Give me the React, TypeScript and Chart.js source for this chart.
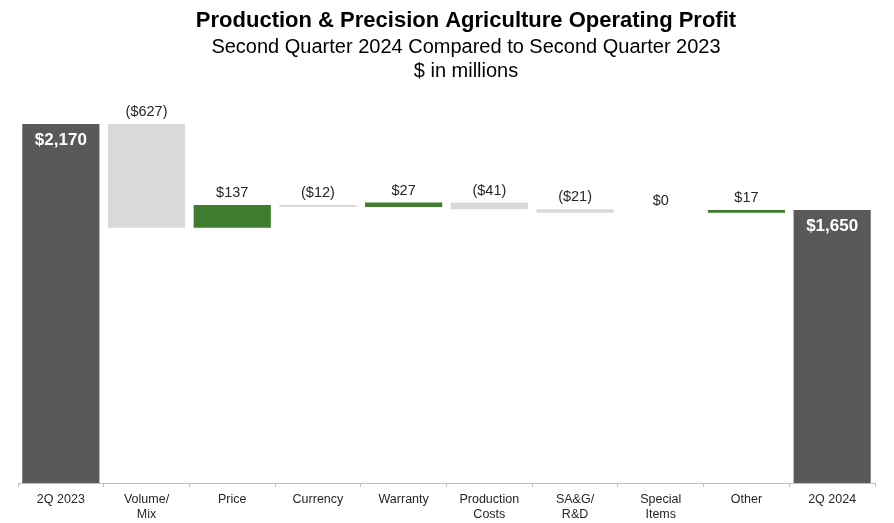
import React, { useEffect, useRef } from "react";
import { Chart, registerables } from "chart.js";

Chart.register(...registerables);

const categories: (string | string[])[] = [
  "2Q 2023",
  ["Volume/", "Mix"],
  "Price",
  "Currency",
  "Warranty",
  ["Production", "Costs"],
  ["SA&G/", "R&D"],
  ["Special", "Items"],
  "Other",
  "2Q 2024",
];
const startTotal = 2170;
const deltas = [-627, 137, -12, 27, -41, -21, 0, 17];
const endTotal = 1650;

const titleLines = [
  "Production & Precision Agriculture Operating Profit",
  "Second Quarter 2024 Compared to Second Quarter 2023",
  "$ in millions",
];

const DARK = "#595959";
const LIGHT = "#d9d9d9";
const GREEN = "#3f7c2e";

function fmtDelta(v: number) {
  if (v < 0) return "($" + Math.abs(v).toLocaleString("en-US") + ")";
  return "$" + v.toLocaleString("en-US");
}

export default function App() {
  const ref = useRef<HTMLCanvasElement | null>(null);
  useEffect(() => {
    if (!ref.current) return;
    const ranges: [number, number][] = [];
    const colors: string[] = [];
    const kinds: string[] = [];
    const labels: string[] = [];
    ranges.push([0, startTotal]);
    colors.push(DARK);
    kinds.push("total");
    labels.push("$" + startTotal.toLocaleString("en-US"));
    let run = startTotal;
    deltas.forEach((d) => {
      const next = run + d;
      ranges.push([Math.min(run, next), Math.max(run, next)]);
      colors.push(d < 0 ? LIGHT : GREEN);
      kinds.push("delta");
      labels.push(fmtDelta(d));
      run = next;
    });
    ranges.push([0, endTotal]);
    colors.push(DARK);
    kinds.push("total");
    labels.push("$" + endTotal.toLocaleString("en-US"));

    const labelPlugin = {
      id: "wfLabels",
      afterDatasetsDraw(chart: any) {
        const ctx = chart.ctx;
        const meta = chart.getDatasetMeta(0);
        ctx.save();
        meta.data.forEach((el: any, i: number) => {
          const top = Math.min(el.y, el.base);
          ctx.textAlign = "center";
          ctx.textBaseline = "middle";
          if (kinds[i] === "total") {
            ctx.fillStyle = "#ffffff";
            ctx.font = "bold 17px 'Liberation Sans', Arial, sans-serif";
            ctx.fillText(labels[i], el.x, top + 16);
          } else {
            ctx.fillStyle = "#262626";
            ctx.font = "14.5px 'Liberation Sans', Arial, sans-serif";
            ctx.fillText(labels[i], el.x, top - 12);
          }
        });
        ctx.restore();
      },
    };

    const titlePlugin = {
      id: "titles",
      afterDraw(chart: any) {
        const ctx = chart.ctx;
        ctx.save();
        ctx.fillStyle = "#000000";
        ctx.textAlign = "center";
        ctx.textBaseline = "middle";
        ctx.font = "bold 22px 'Liberation Sans', Arial, sans-serif";
        ctx.fillText(titleLines[0], 458, 13);
        ctx.font = "20px 'Liberation Sans', Arial, sans-serif";
        ctx.fillText(titleLines[1], 458, 39);
        ctx.fillText(titleLines[2], 458, 63);
        ctx.restore();
      },
    };

    const chart = new Chart(ref.current, {
      type: "bar",
      data: {
        labels: categories as any,
        datasets: [
          {
            data: ranges as any,
            backgroundColor: colors,
            borderWidth: 0,
            barPercentage: 0.9,
            categoryPercentage: 1,
          },
        ],
      },
      options: {
        animation: false,
        responsive: true,
        maintainAspectRatio: false,
        layout: { padding: { top: 116, left: 10, right: 11, bottom: 0 } },
        plugins: {
          legend: { display: false },
          title: { display: false },
          tooltip: { enabled: false },
        },
        scales: {
          x: {
            grid: {
              offset: true,
              drawOnChartArea: false,
              drawTicks: true,
              tickLength: 4,
              color: "#bfbfbf",
            },
            border: { color: "#bfbfbf", width: 1 },
            ticks: {
              color: "#262626",
              font: { family: "'Liberation Sans', Arial, sans-serif", size: 12.5 },
              maxRotation: 0,
              autoSkip: false,
              padding: 5,
            },
          },
          y: {
            display: false,
            min: 0,
            max: 2170,
          },
        },
      },
      plugins: [labelPlugin, titlePlugin],
    });
    return () => chart.destroy();
  }, []);
  return (
    <div style={{ width: 878, height: 519, position: "relative" }}>
      <canvas ref={ref} />
    </div>
  );
}
